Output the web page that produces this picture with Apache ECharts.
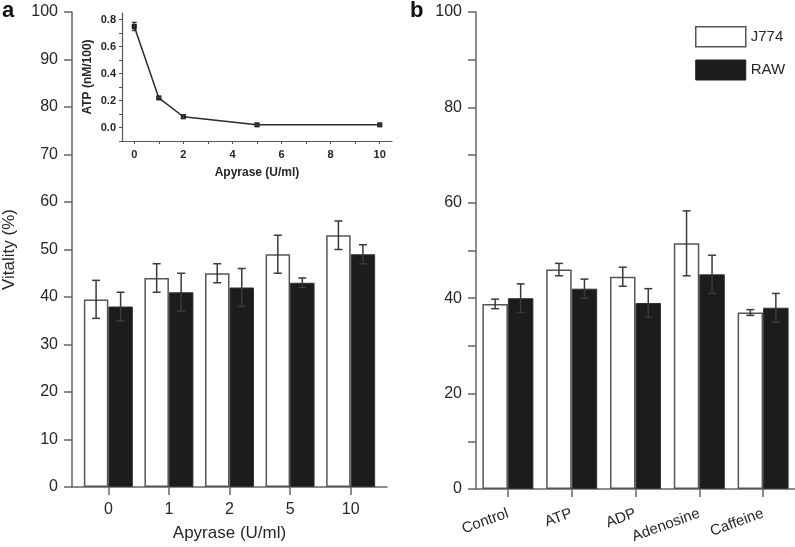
<!DOCTYPE html>
<html>
<head>
<meta charset="utf-8">
<script src="https://cdn.jsdelivr.net/npm/echarts@6/dist/echarts.min.js"></script>
<style>
  html, body { margin: 0; padding: 0; background: #fff; }
  #chart { width: 795px; height: 547px; }
</style>
</head>
<body>
<div id="chart"></div>
<script>
// panel a: vitality vs apyrase
var leftCats = ['0', '1', '2', '5', '10'];
var leftJ774 = [39.5, 44, 45, 49, 53];
var leftJ774Err = [4, 3, 2, 4, 3];
var leftRaw = [38, 41, 42, 43, 49];
var leftRawErr = [3, 4, 4, 1, 2];

// panel b: treatments
var rightCats = ['Control', 'ATP', 'ADP', 'Adenosine', 'Caffeine'];
var rightJ774 = [38.8, 46, 44.5, 51.5, 37];
var rightJ774Err = [1, 1.3, 2, 6.8, 0.6];
var rightRaw = [40, 42, 39, 45, 38];
var rightRawErr = [3, 2, 3, 4, 3];

// inset: ATP vs apyrase
var insetX = [0, 1, 2, 5, 10];
var insetAtp = [0.75, 0.22, 0.08, 0.02, 0.02];
var insetErr = [0.03, 0.005, 0.012, 0.004, 0.004];

var leftTicks = [0, 10, 20, 30, 40, 50, 60, 70, 80, 90, 100];
var rightLabelTicks = [0, 20, 40, 60, 80, 100];
var insetYLabels = [0, 0.2, 0.4, 0.6, 0.8];
var insetYTicks = [-0.1, 0, 0.1, 0.2, 0.3, 0.4, 0.5, 0.6, 0.7, 0.8];
var insetXLabels = [0, 2, 4, 6, 8, 10];
var insetXTicks = [0, 1, 2, 3, 4, 5, 6, 7, 8, 9, 10];

var FONT = 'Liberation Sans, Arial, Helvetica, sans-serif';
var AXIS = '#666';
var TEXT = '#262626';
var EDGE = '#555';
var BLACK = '#1c1c1c';

var chart = echarts.init(document.getElementById('chart'));

function pairs(xs, ys) {
  return ys.map(function (v, i) { return [xs[i], v]; });
}
function errRows(xs, ys, es) {
  return ys.map(function (v, i) { return [xs[i], v, es[i]]; });
}
function errorBar(offset, cap) {
  return function (params, api) {
    var x = api.value(0), y = api.value(1), e = api.value(2);
    var top = api.coord([x, y + e]);
    var bot = api.coord([x, y - e]);
    var cx = top[0] + offset;
    var style = { stroke: '#3a3a3a', lineWidth: 1.5 };
    return {
      type: 'group',
      children: [
        { type: 'line', shape: { x1: cx, y1: top[1], x2: cx, y2: bot[1] }, style: style },
        { type: 'line', shape: { x1: cx - cap, y1: top[1], x2: cx + cap, y2: top[1] }, style: style },
        { type: 'line', shape: { x1: cx - cap, y1: bot[1], x2: cx + cap, y2: bot[1] }, style: style }
      ]
    };
  };
}

var idx = [0, 1, 2, 3, 4];
var axisLine = { show: true, onZero: false, lineStyle: { color: AXIS, width: 1.5 } };
var insetLine = { show: true, onZero: false, lineStyle: { color: '#555', width: 1.2 } };

var option = {
  animation: false,
  textStyle: { fontFamily: FONT },
  graphic: [
    { type: 'text', left: 2, top: 0, style: { text: 'a', font: 'bold 22px ' + FONT, fill: '#111' } },
    { type: 'text', left: 410, top: 0, style: { text: 'b', font: 'bold 22px ' + FONT, fill: '#111' } }
  ],
  legend: {
    orient: 'vertical',
    left: 695,
    top: 26,
    padding: 0,
    itemWidth: 50,
    itemHeight: 20,
    itemGap: 12,
    selectedMode: false,
    textStyle: { fontSize: 15, color: TEXT, fontFamily: FONT },
    data: [
      { name: 'J774', icon: 'rect', itemStyle: { color: '#fff', borderColor: EDGE, borderWidth: 1.5 } },
      { name: 'RAW', icon: 'rect', itemStyle: { color: BLACK, borderColor: BLACK, borderWidth: 1 } }
    ]
  },
  grid: [
    { left: 68, top: 12, width: 319, height: 477 },
    { left: 476, top: 12, width: 320, height: 477 },
    { left: 122, top: 13, width: 270, height: 128 }
  ],
  xAxis: [
    {
      gridIndex: 0, type: 'value', min: -0.6, max: 4.6,
      axisLine: axisLine, splitLine: { show: false },
      axisTick: { show: true, length: 8, customValues: idx, lineStyle: { color: AXIS, width: 1.5 } },
      axisLabel: {
        customValues: idx, margin: 15, fontSize: 16, color: TEXT,
        formatter: function (v) { return leftCats[Math.round(v)]; }
      },
      name: 'Apyrase (U/ml)', nameLocation: 'middle', nameGap: 38,
      nameTextStyle: { fontSize: 17, color: TEXT }
    },
    {
      gridIndex: 1, type: 'category', data: rightCats,
      axisLine: axisLine,
      axisTick: { show: true, length: 8, alignWithLabel: true, lineStyle: { color: AXIS, width: 1.5 } },
      axisLabel: { rotate: 20, margin: 24, fontSize: 15, color: TEXT, interval: 0 }
    },
    {
      gridIndex: 2, type: 'value', min: -0.5, max: 10.5,
      axisLine: insetLine, splitLine: { show: false },
      axisTick: { show: true, length: 3, customValues: insetXTicks, lineStyle: { color: '#555' } },
      axisLabel: { customValues: insetXLabels, margin: 8, fontSize: 11, fontWeight: 'bold', color: TEXT },
      name: 'Apyrase (U/ml)', nameLocation: 'middle', nameGap: 26,
      nameTextStyle: { fontSize: 12, fontWeight: 'bold', color: TEXT }
    }
  ],
  yAxis: [
    {
      gridIndex: 0, type: 'value', min: 0, max: 100, interval: 10,
      axisLine: axisLine, splitLine: { show: false },
      axisTick: { show: true, length: 8, lineStyle: { color: AXIS, width: 1.5 } },
      axisLabel: { customValues: leftTicks, margin: 14, fontSize: 16, color: TEXT },
      name: 'Vitality (%)', nameLocation: 'middle', nameGap: 54,
      nameTextStyle: { fontSize: 17, color: TEXT }
    },
    {
      gridIndex: 1, type: 'value', min: 0, max: 100, interval: 10,
      axisLine: axisLine, splitLine: { show: false },
      axisTick: { show: true, length: 8, lineStyle: { color: AXIS, width: 1.5 } },
      axisLabel: { customValues: rightLabelTicks, margin: 14, fontSize: 16, color: TEXT }
    },
    {
      gridIndex: 2, type: 'value', min: -0.1, max: 0.85,
      axisLine: insetLine, splitLine: { show: false },
      axisTick: { show: true, length: 3, customValues: insetYTicks, lineStyle: { color: '#555' } },
      axisLabel: {
        customValues: insetYLabels, margin: 6, fontSize: 11, fontWeight: 'bold', color: TEXT,
        formatter: function (v) { return v.toFixed(1); }
      },
      name: 'ATP (nM/100)', nameLocation: 'middle', nameGap: 28,
      nameTextStyle: { fontSize: 12, fontWeight: 'bold', color: TEXT }
    }
  ],
  series: [
    {
      name: 'J774', type: 'bar', xAxisIndex: 0, yAxisIndex: 0,
      barWidth: 24.5, barGap: '0%',
      itemStyle: { color: '#fff', borderColor: EDGE, borderWidth: 1.5 },
      data: pairs(idx, leftJ774)
    },
    {
      name: 'RAW', type: 'bar', xAxisIndex: 0, yAxisIndex: 0,
      barWidth: 24.5, barGap: '0%',
      itemStyle: { color: BLACK, borderColor: '#333', borderWidth: 1 },
      data: pairs(idx, leftRaw)
    },
    {
      type: 'custom', xAxisIndex: 0, yAxisIndex: 0, z: 5,
      renderItem: errorBar(-12.25, 4), data: errRows(idx, leftJ774, leftJ774Err)
    },
    {
      type: 'custom', xAxisIndex: 0, yAxisIndex: 0, z: 5,
      renderItem: errorBar(12.25, 4), data: errRows(idx, leftRaw, leftRawErr)
    },
    {
      name: 'J774', type: 'bar', xAxisIndex: 1, yAxisIndex: 1,
      barWidth: 25.5, barGap: '0%',
      itemStyle: { color: '#fff', borderColor: EDGE, borderWidth: 1.5 },
      data: rightJ774
    },
    {
      name: 'RAW', type: 'bar', xAxisIndex: 1, yAxisIndex: 1,
      barWidth: 25.5, barGap: '0%',
      itemStyle: { color: BLACK, borderColor: '#333', borderWidth: 1 },
      data: rightRaw
    },
    {
      type: 'custom', xAxisIndex: 1, yAxisIndex: 1, z: 5,
      renderItem: errorBar(-12.75, 4), data: errRows(idx, rightJ774, rightJ774Err)
    },
    {
      type: 'custom', xAxisIndex: 1, yAxisIndex: 1, z: 5,
      renderItem: errorBar(12.75, 4), data: errRows(idx, rightRaw, rightRawErr)
    },
    {
      type: 'line', xAxisIndex: 2, yAxisIndex: 2,
      symbol: 'rect', symbolSize: 5, showSymbol: true,
      lineStyle: { color: '#2a2a2a', width: 1.5 },
      itemStyle: { color: '#111' },
      data: pairs(insetX, insetAtp)
    },
    {
      type: 'custom', xAxisIndex: 2, yAxisIndex: 2, z: 5,
      renderItem: errorBar(0, 2.5), data: errRows(insetX, insetAtp, insetErr)
    }
  ]
};

chart.setOption(option);
</script>
</body>
</html>
